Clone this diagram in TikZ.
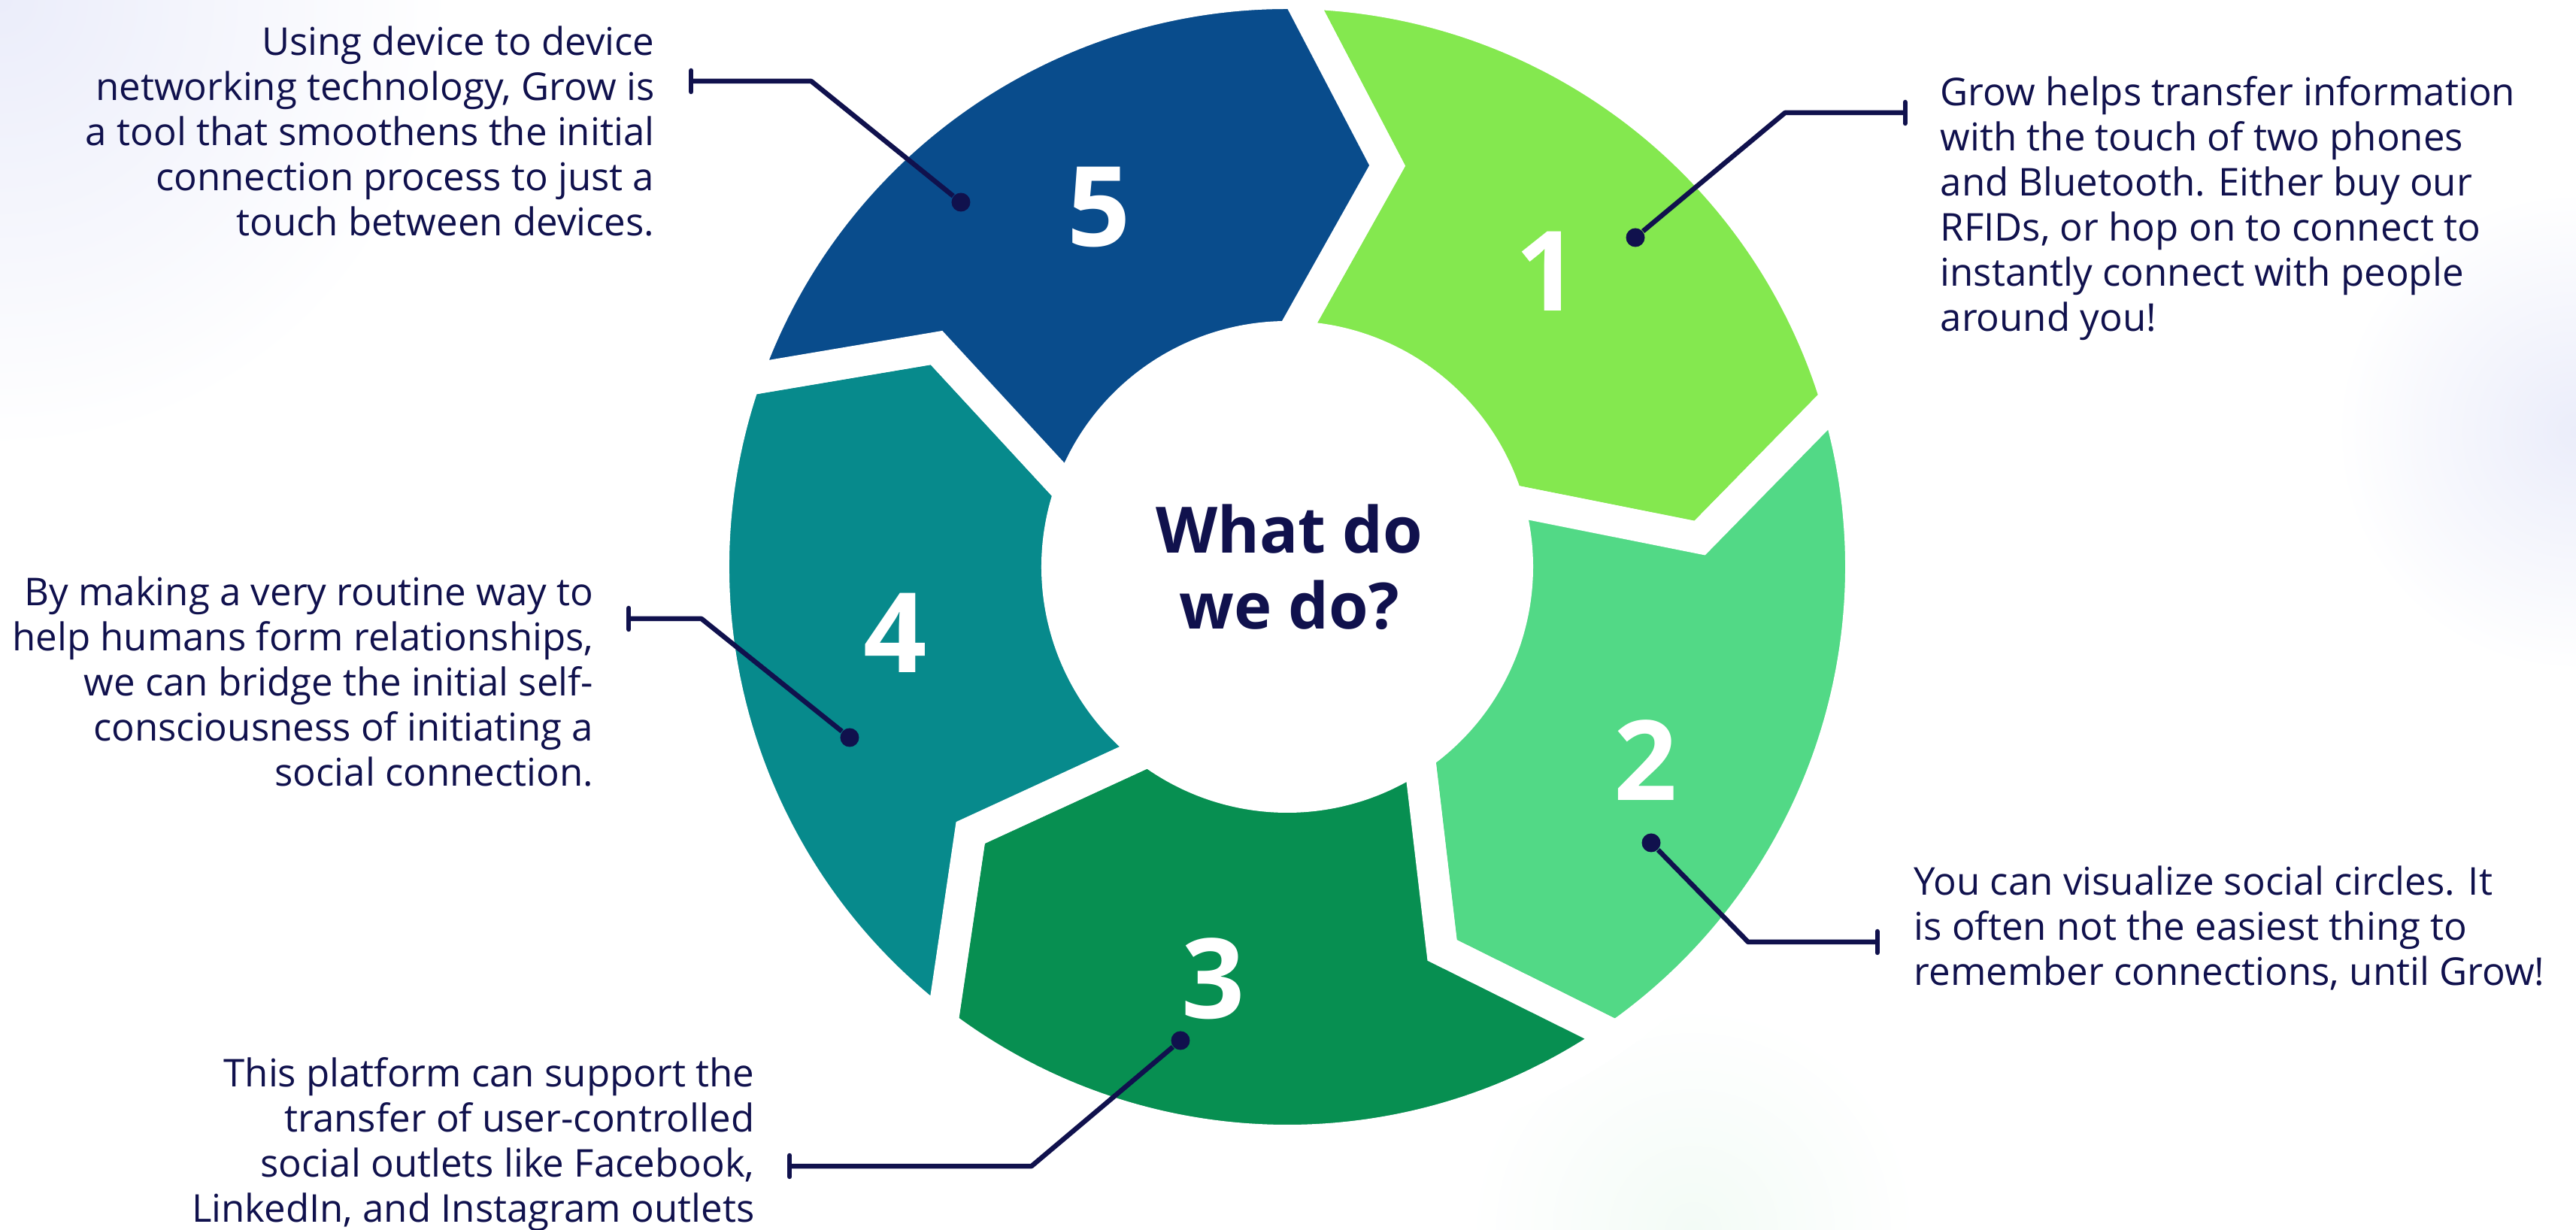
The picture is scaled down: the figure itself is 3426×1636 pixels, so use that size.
\documentclass[tikz,border=0pt]{standalone}
\usepackage{fontspec}
\setmainfont{Open Sans}
\usetikzlibrary{arrows.meta}

\definecolor{navy}{HTML}{10114D}
\definecolor{seg1}{HTML}{84E84F}
\definecolor{seg2}{HTML}{52D986}
\definecolor{seg3}{HTML}{078F51}
\definecolor{seg4}{HTML}{078A8C}
\definecolor{seg5}{HTML}{094C8C}
\definecolor{glowblue}{HTML}{EBEDFA}
\definecolor{glowgreen}{HTML}{F3FBF6}

\tikzset{
  every segment/.style={draw=white, line width=4.2mm, line join=miter},
  step num/.style={text=white, inner sep=0pt, font=\fontsize{42}{42}\selectfont\bfseries},
  step dot/.style={circle, fill=navy, inner sep=0pt, minimum size=2.5mm},
  step line/.style={navy, line width=0.65mm, line join=round, -{Bar[width=2.8mm, round]}},
  step text/.style={text=navy, inner sep=0pt, font=\fontsize{14.5}{17.07}\selectfont},
  title text/.style={text=navy, inner sep=0pt, align=center, font=\fontsize{24.2}{28.7}\selectfont\bfseries},
}

\begin{document}
\begin{tikzpicture}[x=0.1mm, y=0.1mm, >=stealth]

  \useasboundingbox (-1712,-882) rectangle (1714,754);

  % soft background glows
  \begin{scope}
    \clip (-1712,-882) rectangle (1714,754);
    \shade[inner color=glowblue, outer color=white] (-1712,754) circle (600);
    \shade[inner color=glowblue, outer color=white] (1714,180) circle (320);
    \shade[inner color=glowgreen, outer color=white] (540,-882) circle (300);
  \end{scope}

  % ring segments
  \foreach \c [count=\k] in {seg1,seg2,seg3,seg4,seg5}{
    \pgfmathsetmacro\ts{89-72*(\k-1)}
    \pgfmathsetmacro\te{\ts-72}
    \pgfmathsetmacro\ps{\ts-13}
    \pgfmathsetmacro\pe{\te-13}
    \filldraw[every segment, fill=\c] (\ts:763) arc[start angle=\ts, end angle=\te, radius=763]
      -- (\pe:550) -- (\te:306) arc[start angle=\te, end angle=\ts, radius=306]
      -- (\ps:550) -- cycle;
  }

  % centre
  \node[title text] (centre) at (3,0) {What do\\we do?};

  % numbers
  \foreach \i/\x/\y in {1/346/393, 2/477/-257, 3/-98/-548, 4/-521/-88, 5/-250/478}
    \node[step num] (num-\i) at (\x,\y) {\i};

  % dots
  \foreach \i/\x/\y in {1/463/438, 2/484/-367, 3/-142/-630, 4/-582/-227, 5/-434/485}
    \node[step dot] (dot-\i) at (\x,\y) {};

  % bends and bar ends
  \foreach \i/\x/\y/\e in {1/662/604/825, 2/613/-499/788, 3/-340/-797/-665, 4/-779/-69/-879, 5/-633/646/-796}{
    \coordinate (bend-\i) at (\x,\y);
    \coordinate (end-\i) at (\e,\y);
  }

  % lines from dots to texts
  \foreach \i in {1,...,5}
    \draw[step line] (dot-\i) -- (bend-\i) -- (end-\i);

  % texts
  \node[step text, anchor=north west, align=left] (text-1) at (868,653)
    {Grow helps transfer information\\with the touch of two phones\\and Bluetooth. Either buy our\\RFIDs, or hop on to connect to\\instantly connect with people\\around you!};
  \node[step text, anchor=north west, align=left] (text-2) at (833,-397)
    {You can visualize social circles. It\\is often not the easiest thing to\\remember connections, until Grow!};
  \node[step text, anchor=north east, align=right] (text-3) at (-708,-652)
    {This platform can support the\\transfer of user-controlled\\social outlets like Facebook,\\LinkedIn, and Instagram outlets};
  \node[step text, anchor=north east, align=right] (text-4) at (-922,-12)
    {By making a very routine way to\\help humans form relationships,\\we can bridge the initial self-\\consciousness of initiating a\\social connection.};
  \node[step text, anchor=north east, align=right] (text-5) at (-841,720)
    {Using device to device\\networking technology, Grow is\\a tool that smoothens the initial\\connection process to just a\\touch between devices.};

\end{tikzpicture}
\end{document}
